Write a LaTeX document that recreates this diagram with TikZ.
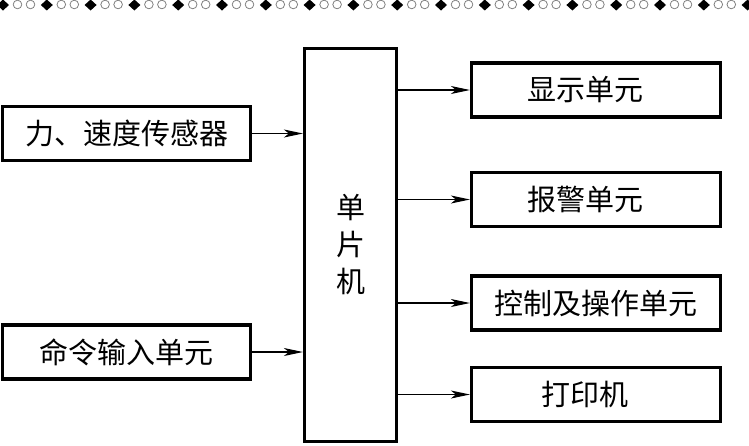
\documentclass[tikz,border=0pt]{standalone}
\usepackage{fontspec}
\newfontfamily\cjk{Noto Sans CJK SC}
\usetikzlibrary{arrows.meta,positioning}

\begin{document}
\begin{tikzpicture}[
  x=1pt, y=-1pt,
  every node/.style={font=\cjk\fontsize{29}{37}\selectfont},
  unit/.style={draw, line width=3.2pt, inner sep=0pt},
  inbox/.style={unit, minimum width=248pt, minimum height=54pt},
  outbox/.style={unit, minimum width=249pt, minimum height=54pt},
  link/.style={-{Stealth[length=19pt, width=8pt, inset=5pt]}, line width=1.1pt},
]

\useasboundingbox (0,0) rectangle (749,445);

%% -- decorative top strip -------------------------------------------------
\foreach \k in {0,...,17} {
  \fill ({3+43.8*\k},-0.5) -- ++(6,5.5) -- ++(-6,5.5) -- ++(-6,-5.5) -- cycle;
  \draw[gray, line width=0.8pt] ({17.5+43.8*\k},4.5) circle (4.3);
  \draw[gray, line width=0.8pt] ({30.5+43.8*\k},4.5) circle (4.3);
}

%% -- inputs ---------------------------------------------------------------
\node[inbox] (sensor) at (126.5,133.5) {力、速度传感器};
\node[inbox] (cmd)    at (126.5,352)   {命令输入单元};

%% -- controller -----------------------------------------------------------
\node[unit, minimum width=92pt, minimum height=393pt, align=center]
  (mcu) at (350.5,245) {单\\片\\机};

%% -- outputs --------------------------------------------------------------
\node[outbox] (disp)  at (596,90)    {显示单元\kern22pt};
\node[outbox] (alarm) at (596,199.5) {报警单元\kern22pt};
\node[outbox] (ctrl)  at (596,303)   {控制及操作单元};
\node[outbox] (print) at (596,394.5) {打印机\kern22pt};

%% -- connections ----------------------------------------------------------
\draw[link] (sensor.east) -- (sensor.east -| mcu.west);
\draw[link] (cmd.east)    -- (cmd.east -| mcu.west);

\foreach \n in {disp,alarm,ctrl,print}
  \draw[link] (\n.west -| mcu.east) -- (\n.west);

\end{tikzpicture}
\end{document}
